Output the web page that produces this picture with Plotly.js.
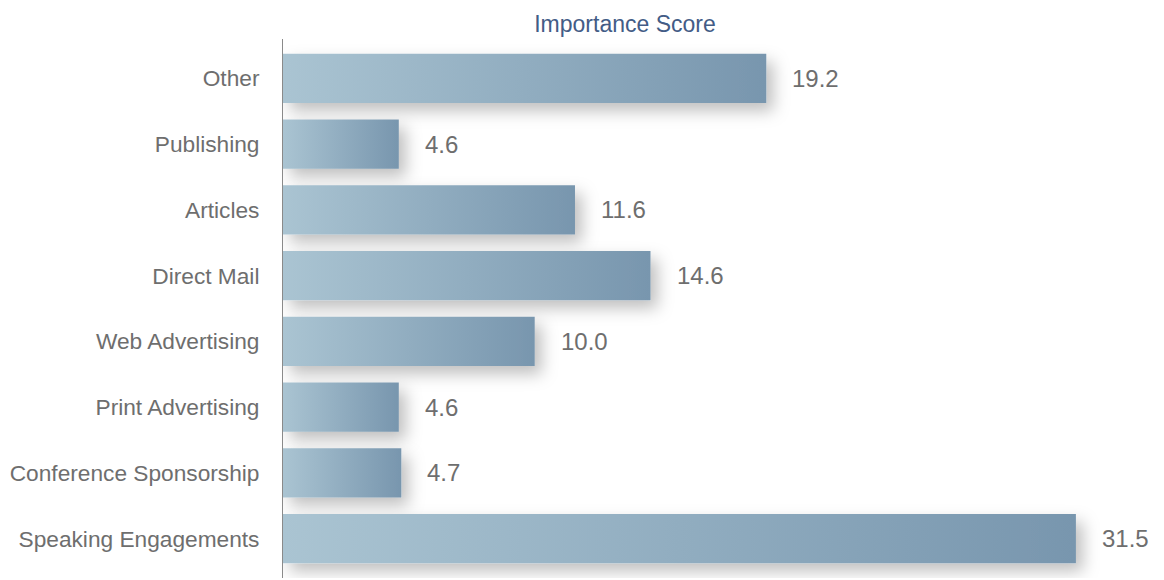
<!DOCTYPE html>
<html>
<head>
<meta charset="utf-8">
<script src="https://cdn.plot.ly/plotly-3.0.1.min.js"></script>
<style>
  html, body { margin: 0; padding: 0; background: #ffffff; }
  #chart { width: 1164px; height: 580px; }
</style>
</head>
<body>
<div id="chart"></div>
<script>
// Data (top to bottom as shown)
const categories = [
  "Other",
  "Publishing",
  "Articles",
  "Direct Mail",
  "Web Advertising",
  "Print Advertising",
  "Conference Sponsorship",
  "Speaking Engagements"
];
const scores = [19.2, 4.6, 11.6, 14.6, 10.0, 4.6, 4.7, 31.5];
const scoreLabels = ["19.2", "4.6", "11.6", "14.6", "10.0", "4.6", "4.7", "31.5"];
const chartTitle = "Importance Score";

const FONT = "Liberation Sans, Arial, sans-serif";

const trace = {
  type: "bar",
  orientation: "h",
  y: categories,
  x: scores,
  marker: { color: "#93afc2", line: { width: 0 } },
  hoverinfo: "x+y",
  cliponaxis: false
};

const annotations = categories.map((c, i) => ({
  x: scores[i],
  y: c,
  xref: "x",
  yref: "y",
  text: scoreLabels[i],
  showarrow: false,
  xanchor: "left",
  yanchor: "middle",
  xshift: 24,
  font: { family: FONT, size: 24, color: "#6e6e6e" }
}));

const layout = {
  width: 1164,
  height: 580,
  margin: { l: 283, r: 0, t: 39, b: 2 },
  paper_bgcolor: "#ffffff",
  plot_bgcolor: "#ffffff",
  showlegend: false,
  bargap: 0.25,
  title: {
    text: chartTitle,
    x: 625 / 1164,
    xanchor: "center",
    xref: "container",
    y: 1 - 24 / 580,
    yanchor: "middle",
    yref: "container",
    font: { family: FONT, size: 23, color: "#435c86" }
  },
  xaxis: {
    range: [0, 35],
    visible: false,
    showgrid: false,
    zeroline: false,
    fixedrange: true
  },
  yaxis: {
    type: "category",
    range: [7.6, -0.6],
    showline: true,
    linecolor: "#8a8a8a",
    linewidth: 1,
    showgrid: false,
    zeroline: false,
    ticks: "",
    ticklabelstandoff: 18,
    tickfont: { family: FONT, size: 22.7, color: "#6e6e6e" },
    fixedrange: true
  },
  annotations: annotations
};

Plotly.newPlot("chart", [trace], layout, { displayModeBar: false, staticPlot: true }).then(gd => {
  const svg = gd.querySelector("svg.main-svg");
  const NS = "http://www.w3.org/2000/svg";
  let defs = svg.querySelector("defs");
  if (!defs) { defs = document.createElementNS(NS, "defs"); svg.insertBefore(defs, svg.firstChild); }
  const grad = document.createElementNS(NS, "linearGradient");
  grad.setAttribute("id", "barGrad");
  grad.setAttribute("x1", "0"); grad.setAttribute("y1", "0");
  grad.setAttribute("x2", "1"); grad.setAttribute("y2", "0");
  [["0", "#aac4d2"], ["1", "#7896ae"]].forEach(([o, c]) => {
    const s = document.createElementNS(NS, "stop");
    s.setAttribute("offset", o); s.setAttribute("stop-color", c);
    grad.appendChild(s);
  });
  defs.appendChild(grad);
  const filt = document.createElementNS(NS, "filter");
  filt.setAttribute("id", "barShadow");
  filt.setAttribute("x", "-10%"); filt.setAttribute("y", "-50%");
  filt.setAttribute("width", "135%"); filt.setAttribute("height", "210%");
  const ds = document.createElementNS(NS, "feDropShadow");
  ds.setAttribute("dx", "7"); ds.setAttribute("dy", "8");
  ds.setAttribute("stdDeviation", "8");
  ds.setAttribute("flood-color", "#000000");
  ds.setAttribute("flood-opacity", "0.25");
  filt.appendChild(ds);
  defs.appendChild(filt);
  gd.querySelectorAll(".barlayer .point path").forEach(p => {
    p.style.fill = "url(#barGrad)";
    p.style.filter = "url(#barShadow)";
  });
});
</script>
</body>
</html>
